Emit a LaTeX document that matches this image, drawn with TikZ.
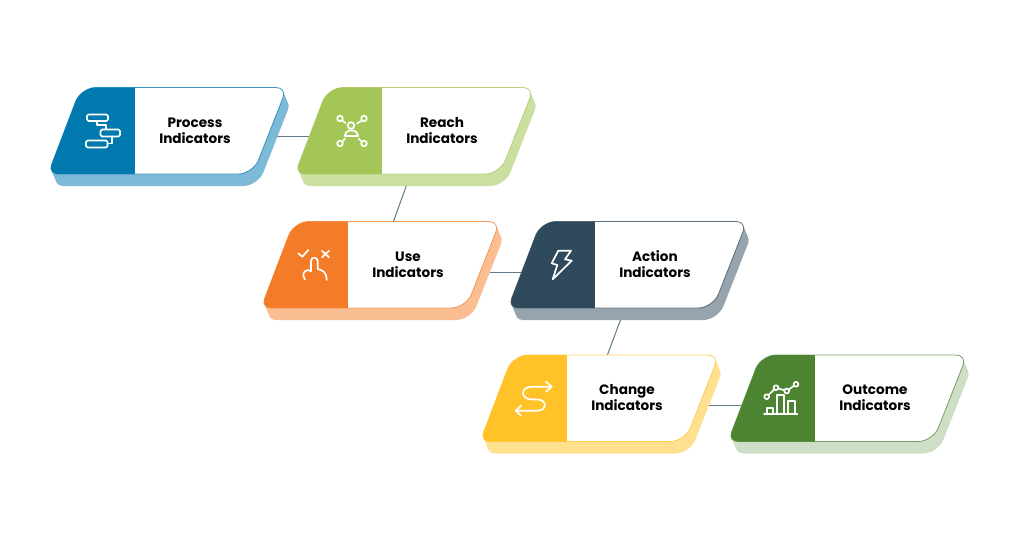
\documentclass[tikz,border=0pt]{standalone}
\usepackage{fontspec}
\newfontfamily\labfont{Poppins}
\pgfdeclarelayer{bg}
\pgfsetlayers{bg,main}
\definecolor{cblue}{HTML}{0079AE}\definecolor{sblue}{HTML}{7DBAD7}
\definecolor{cgreen}{HTML}{A4C657}\definecolor{sgreen}{HTML}{CBDFA0}
\definecolor{corange}{HTML}{F47B27}\definecolor{sorange}{HTML}{FBBE93}
\definecolor{cnavy}{HTML}{2E4A5C}\definecolor{snavy}{HTML}{96A4AE}
\definecolor{cyellow}{HTML}{FFC228}\definecolor{syellow}{HTML}{FFE08F}
\definecolor{cdgreen}{HTML}{4D8431}\definecolor{sdgreen}{HTML}{CFDFC7}
\definecolor{clink}{HTML}{5F7A88}
\tikzset{
  label text/.style={align=center,inner sep=0pt,text=black,font=\labfont\bfseries\fontsize{13.6}{16}\selectfont},
  link/.style={draw=clink,line width=1pt},
  icon/.style={draw=white,line width=1.7pt,line join=round,line cap=round},
}
\newcommand\cardpath{(130,0) [rounded corners=11pt] -- (238,0) [rounded corners=15pt] -- (204,86.5) [rounded corners=10pt] -- (-1,86.5) [rounded corners=15pt] -- (32,0) [sharp corners] -- cycle}
\newcommand\card[7]{%
  \begin{scope}[shift={(#2,#3)}]
    \foreach \t in {0,0.1,...,1.01}{\fill[#5] [shift={(5*\t,12*\t)}] \cardpath;}
    \fill[white] \cardpath;
    \begin{scope}
      \clip \cardpath;
      \fill[#4] (-5,-5) rectangle (85.7,92);
    \end{scope}
    \draw[#4,line width=.8pt,draw opacity=.75] \cardpath;
    \node[label text] (#1) at (146,42.7) {\vphantom{h}#6\\#7};
  \end{scope}}
\begin{document}
\begin{tikzpicture}[x=1pt,y=-1pt]
\useasboundingbox (0,0) rectangle (1024,535);
\begin{pgfonlayer}{bg}\fill[white] (0,0) rectangle (1024,535);\end{pgfonlayer}
\card{process}{49}{87.5}{cblue}{sblue}{Process}{Indicators}
\card{reach}{296}{87.5}{cgreen}{sgreen}{Reach}{Indicators}
\card{use}{262}{221.5}{corange}{sorange}{Use}{Indicators}
\card{action}{509}{221.5}{cnavy}{snavy}{Action}{Indicators}
\card{change}{481}{355}{cyellow}{syellow}{Change}{Indicators}
\card{outcome}{729}{355}{cdgreen}{sdgreen}{Outcome}{Indicators}
\begin{pgfonlayer}{bg}
\draw[link] ([yshift=-6pt]process.center) -- ([yshift=-6pt]reach.center);
\draw[link] ([shift={(-31.5,44)}]reach.center) -- ([shift={(-15,-41.5)}]use.center);
\draw[link] ([yshift=-8pt]use.center) -- ([yshift=-8pt]action.center);
\draw[link] ([shift={(-30.5,45)}]action.center) -- ([shift={(-19.5,-43)}]change.center);
\draw[link] ([yshift=-7.5pt]change.center) -- ([yshift=-7.5pt]outcome.center);
\end{pgfonlayer}
% process icon
\draw[icon,rounded corners=1.5pt] (87,114.5) rectangle (108,121);
\draw[icon,rounded corners=1.5pt] (100.5,129.5) rectangle (120,136.5);
\draw[icon,rounded corners=1.5pt] (86,140.5) rectangle (107.5,147.5);
\draw[icon] (97,121) -- (97,125) -- (106,125) -- (106,129.5);
\draw[icon] (112,136.5) -- (112,143.5) -- (107.5,143.5);
% reach icon
\draw[icon] (351,125.5) circle (3.3);
\draw[icon] (345,136) .. controls (345,128.5) and (357.5,128.5) .. (358,136) -- cycle;
\foreach \a/\b/\c/\d/\e/\f in {340/118.5/343/121/345.5/123,364/118.5/361/121/357/123.5,340/143.5/343/141/345/138.5,364/143.5/361/141/358.5/138.5}{
  \draw[icon] (\a,\b) circle (2.8);
  \draw[icon] (\c,\d) -- (\e,\f);}
% use icon
\draw[icon] (298.3,253.3) -- (302.3,256.7) -- (308.3,250);
\draw[icon] (322,250.8) -- (329,257.3) (329,250.8) -- (322,257.3);
\draw[icon] (305,279.5) .. controls (302,275) and (303,271) .. (308,270) -- (311,271.5) -- (311,261) .. controls (311,256.5) and (317.7,256.5) .. (317.7,261) -- (317.7,269) .. controls (323,270) and (327,273) .. (326.7,280);
% action icon
\draw[icon] (558.3,250.7) -- (571,250.7) -- (565,259.3) -- (571.7,260.7) -- (552.7,279.3) -- (557.3,265) -- (551.7,263.3) -- cycle;
% change icon
\draw[icon] (551.7,386.7) -- (532,386.7) .. controls (520,386.7) and (520,399.5) .. (532,399.5) -- (537,399.5) .. controls (547.5,399.5) and (547.5,410.7) .. (537,410.7) -- (515.7,410.7);
\draw[icon] (546,381.7) -- (551.7,386.7) -- (546,391.7);
\draw[icon] (521,405.7) -- (515.7,410.7) -- (521,415.7);
% outcome icon
\draw[icon] (764,414.3) -- (797.3,414.3);
\draw[icon] (766.7,414.3) -- (766.7,407.7) -- (773.3,407.7) -- (773.3,414.3);
\draw[icon] (777.3,414.3) -- (777.3,395) -- (784,395) -- (784,414.3);
\draw[icon] (788.3,414.3) -- (788.3,401) -- (795,401) -- (795,414.3);
\draw[icon] (766.7,396.7) circle (2.4) (776,387.7) circle (2.4) (786.7,391) circle (2.4) (796,384.3) circle (2.4);
\draw[icon] (768.4,395) -- (774.3,389.4) (778.3,388.4) -- (784.4,390.3) (788.7,389.6) -- (794,385.7);
\end{tikzpicture}
\end{document}
